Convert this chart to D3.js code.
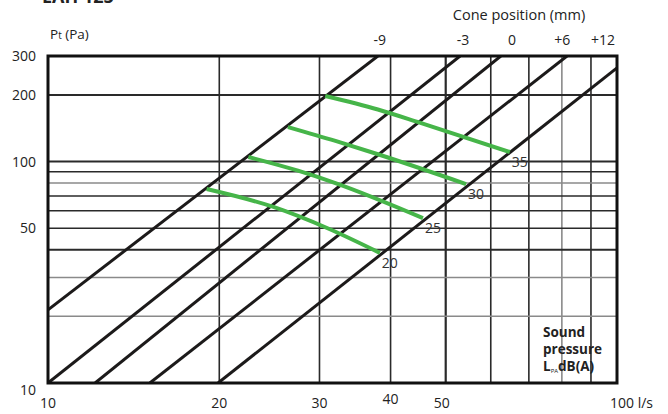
<!DOCTYPE html>
<html lang="en">
<head>
<meta charset="utf-8">
<title>Pressure drop chart</title>
<script src="https://d3js.org/d3.v7.min.js" charset="utf-8"></script>
<style>
 body { margin: 0; background: #fff; }
 text { font-family: "Open Sans", sans-serif; fill: #222; }
</style>
</head>
<body>
<script type="text/javascript">

 // Chart data
 var xGrid = [20, 30, 40, 50, 60, 70, 80, 90];
 var yGrid = [20, 30, 40, 50, 60, 70, 80, 90, 100, 200];
 var xLabels = [10, 20, 30, 40, 50];
 var yLabels = [300, 200, 100, 50];

 // cone position lines, two points each (l/s, Pa)
 var coneNames = ["-9", "-3", "0", "+6", "+12"];
 var coneLines = [
     [[10, 21.4], [38.0, 300]],
     [[10, 10], [53.0, 300]],
     [[12.1, 10], [62.5, 300]],
     [[15.1, 10], [81.7, 300]],
     [[19.9, 10], [100, 265]]
 ];
 var coneLabelQ = [38.3, 53.6, 65.4, 80.1, 94.5];

 // sound pressure curves
 var soundLevels = [20, 25, 30, 35];
 var soundCurves = [
     [[19.0, 75.2], [24.9, 62.4], [31.0, 50.0], [38.3, 38.7]],
     [[22.5, 104.9], [27.5, 91.0], [32.0, 80.0], [45.6, 55.6]],
     [[26.4, 143.3], [32.0, 124.0], [38.0, 108.0], [54.3, 79.2]],
     [[30.7, 197.9], [38.0, 172.0], [45.0, 150.0], [64.8, 110.5]]
 ];

 var width = 668, height = 414;
 var box = {left: 48, right: 617, top: 56, bottom: 383};

 var x = d3.scaleLog().domain([10, 100]).range([box.left, box.right]);
 var y = d3.scaleLog().domain([10, 300]).range([box.bottom, box.top]);

 var svg = d3.select("body").append("svg")
	     .attr("width", width)
	     .attr("height", height);

 svg.append("clipPath").attr("id", "plot")
    .append("rect")
    .attr("x", box.left).attr("y", box.top)
    .attr("width", box.right - box.left).attr("height", box.bottom - box.top);

 // grid
 var greyX = [80], greyY = [20, 30, 80];
 svg.selectAll(".vg").data(xGrid).enter().append("line")
    .attr("x1", d => x(d)).attr("x2", d => x(d))
    .attr("y1", box.top).attr("y2", box.bottom)
    .attr("stroke", d => greyX.includes(d) ? "#8a8a8a" : "#2a2a2a")
    .attr("stroke-width", d => d == 50 ? 2.2 : 1.6);

 svg.selectAll(".hg").data(yGrid).enter().append("line")
    .attr("x1", box.left).attr("x2", box.right)
    .attr("y1", d => y(d)).attr("y2", d => y(d))
    .attr("stroke", d => greyY.includes(d) ? "#8a8a8a" : "#2a2a2a")
    .attr("stroke-width", d => (d == 100 || d == 200 || d == 40) ? 2 : 1.5);

 var line = d3.line().x(d => x(d[0])).y(d => y(d[1]));

 var plot = svg.append("g").attr("clip-path", "url(#plot)");

 plot.selectAll(".cone").data(coneLines).enter().append("path")
     .attr("d", line)
     .attr("fill", "none")
     .attr("stroke", "#1c1a1a")
     .attr("stroke-width", 3);

 var curve = d3.line().x(d => x(d[0])).y(d => y(d[1])).curve(d3.curveMonotoneX);

 plot.selectAll(".snd").data(soundCurves).enter().append("path")
     .attr("d", curve)
     .attr("fill", "none")
     .attr("stroke", "#46b549")
     .attr("stroke-width", 4);

 // border
 svg.append("rect")
    .attr("x", box.left).attr("y", box.top)
    .attr("width", box.right - box.left).attr("height", box.bottom - box.top)
    .attr("fill", "none")
    .attr("stroke", "#111")
    .attr("stroke-width", 3);

 // sound level labels
 svg.selectAll(".sl").data(soundLevels).enter().append("text")
    .attr("x", (d, i) => x(soundCurves[i][soundCurves[i].length - 1][0]) + 10)
    .attr("y", (d, i) => y(soundCurves[i][soundCurves[i].length - 1][1]) + 15)
    .attr("text-anchor", "middle")
    .style("font-size", "14px")
    .style("fill", "#333")
    .text(d => d);

 // axis labels
 svg.selectAll(".yl").data(yLabels).enter().append("text")
    .attr("x", 36)
    .attr("y", d => y(d) + 5)
    .attr("text-anchor", "end")
    .style("font-size", "14px")
    .text(d => d);
 svg.append("text").attr("x", 36).attr("y", box.bottom + 12)
    .attr("text-anchor", "end").style("font-size", "14px").text("10");

 svg.selectAll(".xl").data(xLabels).enter().append("text")
    .attr("x", d => x(d) - (d == 50 ? 4 : 0))
    .attr("y", d => d == 40 ? 404 : 408)
    .attr("text-anchor", "middle")
    .style("font-size", "14px")
    .text(d => d);
 svg.append("text").attr("x", 653).attr("y", 408)
    .attr("text-anchor", "end").style("font-size", "14px").text("100 l/s");

 var pt = svg.append("text").attr("x", 50).attr("y", 39).style("font-size", "13.5px");
 pt.append("tspan").text("P");
 pt.append("tspan").style("font-size", "10px").text("t");
 pt.append("tspan").text(" (Pa)");

 svg.append("text").attr("x", 519).attr("y", 20)
    .attr("text-anchor", "middle").style("font-size", "14.5px")
    .text("Cone position (mm)");

 svg.selectAll(".cl").data(coneNames).enter().append("text")
    .attr("x", (d, i) => x(coneLabelQ[i]))
    .attr("y", 45)
    .attr("text-anchor", "middle")
    .style("font-size", "14px")
    .text(d => d);

 // legend box text
 var lg = svg.append("g").style("font-weight", "bold").style("font-size", "13.5px");
 lg.append("text").attr("x", 543).attr("y", 337).text("Sound");
 lg.append("text").attr("x", 543).attr("y", 354).text("pressure");
 var lpa = lg.append("text").attr("x", 543).attr("y", 371);
 lpa.append("tspan").text("L");
 lpa.append("tspan").style("font-size", "6px").style("font-weight", "normal").attr("dy", 2).text("PA");
 lpa.append("tspan").attr("dy", -2).text("dB(A)");

 // title, cut at the top edge
 svg.append("text").attr("x", 42).attr("y", 3)
    .style("font-size", "18px").style("font-weight", "bold")
    .text("EAH 125");

</script>
</body>
</html>
